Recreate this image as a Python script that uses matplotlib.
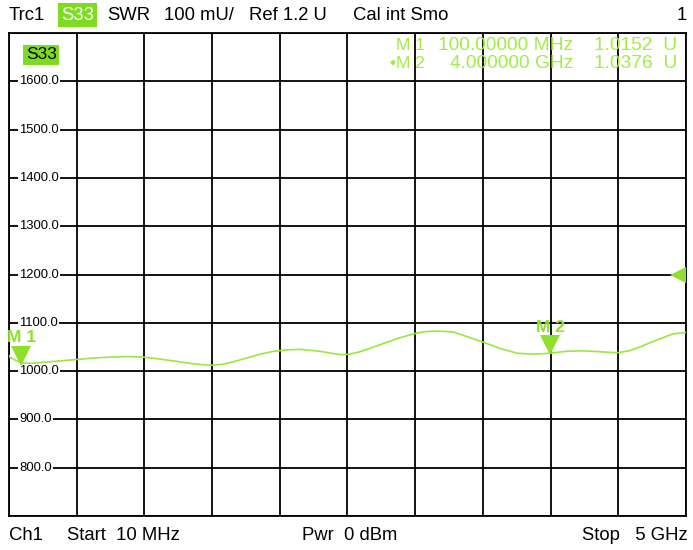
import matplotlib
matplotlib.use("Agg")
import matplotlib.pyplot as plt

# trace data: frequency (GHz) and SWR (mU)
freq = [0.01, 0.017, 0.06, 0.104, 0.18, 0.26, 0.38, 0.51, 0.63, 0.754, 0.88, 0.998,
        1.12, 1.248, 1.37, 1.492, 1.58, 1.661, 1.76, 1.86, 1.96, 2.059, 2.155,
        2.302, 2.45, 2.52, 2.597, 2.68, 2.767, 2.89, 3.017, 3.09, 3.165, 3.283,
        3.39, 3.504, 3.63, 3.754, 3.88, 3.998, 4.12, 4.241, 4.37, 4.492, 4.58,
        4.661, 4.78, 4.904, 5.0]
swr = [1032, 1029, 1022, 1017, 1016, 1018, 1021, 1024, 1027, 1029, 1030, 1029,
       1025, 1020, 1015, 1012, 1014, 1019, 1027, 1035, 1041, 1044, 1045,
       1041, 1034, 1035, 1040, 1048, 1057, 1069, 1079, 1082, 1083, 1081,
       1071, 1060, 1047, 1037, 1035, 1037, 1041, 1042, 1040, 1038, 1042,
       1050, 1064, 1077, 1080]

yticks = [800, 900, 1000, 1100, 1200, 1300, 1400, 1500, 1600]
marker_names = ["M 1", "M 2"]
marker_freq = [0.1, 4.0]
marker_val = [1015.2, 1037.6]
marker_freq_txt = ["100.00000 MHz", "4.000000 GHz"]
marker_val_txt = ["1.0152  U", "1.0376  U"]
ref_level = 1200

green = "#8fe02c"
trace_col = "#9be640"
read_col = "#a2ec48"
box_col = "#7ddc1f"
font = "Liberation Sans"
fs = 13.3

fig = plt.figure(figsize=(6.93, 5.5), dpi=100)
ax = fig.add_axes([9 / 693, 34 / 550, 677 / 693, 483 / 550])
ax.set_xlim(0.01, 5.0)
ax.set_ylim(700, 1700)
ax.set_xticks([0.01 + i * 0.499 for i in range(11)])
ax.set_yticks([700 + i * 100 for i in range(11)])
ax.grid(True, color="black", linewidth=1.3)
ax.tick_params(length=0, labelbottom=False, labelleft=False)
for s in ax.spines.values():
    s.set_linewidth(1.3)

ax.plot(freq, swr, color=trace_col, linewidth=1.2, zorder=3)

# y labels drawn inside the grid
for v in yticks:
    ax.text(0.0150, v, "%.1f" % v, transform=ax.get_yaxis_transform(),
            ha="left", va="center", fontsize=9.4, family=font,
            bbox=dict(facecolor="white", edgecolor="none", pad=0.8), zorder=4)

# markers
for name, f, v in zip(marker_names, marker_freq, marker_val):
    ax.plot(f, v + 16, marker="v", markersize=14, color=green,
            markeredgewidth=0, zorder=5, clip_on=False)
    ax.text(f, v + 38, name, ha="center", va="bottom", fontsize=12.5,
            color=green, family=font, fontweight="bold", zorder=5)

# reference level arrow on the right
ax.plot(4.94, ref_level, marker="<", markersize=11, color=green,
        markeredgewidth=0, clip_on=False, zorder=5)

# S33 box in the top left corner
ax.text(0.025, 0.955, "S33", transform=ax.transAxes, ha="left", va="center",
        fontsize=12.5, family=font, color="black",
        bbox=dict(facecolor=box_col, edgecolor="none", pad=1.8), zorder=5)

# marker readout
for i in range(2):
    yy = 1 - (12 + 18 * i) / 483
    prefix = "\u2022" if i == 1 else ""
    ax.text(416 / 677, yy, prefix + marker_names[i], transform=ax.transAxes,
            ha="right", va="center", fontsize=12.5, color=read_col, family=font)
    ax.text(564 / 677, yy, marker_freq_txt[i], transform=ax.transAxes,
            ha="right", va="center", fontsize=13.8, color=read_col, family=font)
    ax.text(668 / 677, yy, marker_val_txt[i], transform=ax.transAxes,
            ha="right", va="center", fontsize=13.8, color=read_col, family=font)

# header
hy = 1 - 15 / 550
fig.text(9 / 693, hy, "Trc1", fontsize=fs, family=font, va="center")
fig.text(61 / 693, hy, "S33", fontsize=fs, family=font, va="center",
         color="white", bbox=dict(facecolor=box_col, edgecolor="none", pad=2.2))
fig.text(107 / 693, hy, "SWR", fontsize=fs, family=font, va="center")
fig.text(164 / 693, hy, "100 mU/", fontsize=fs, family=font, va="center")
fig.text(249 / 693, hy, "Ref 1.2 U", fontsize=fs, family=font, va="center")
fig.text(353 / 693, hy, "Cal int Smo", fontsize=fs, family=font, va="center")
fig.text(687 / 693, hy, "1", fontsize=fs, family=font, va="center", ha="right")

# footer
fy = 1 - 535 / 550
fig.text(9 / 693, fy, "Ch1", fontsize=fs, family=font, va="center")
fig.text(67 / 693, fy, "Start  10 MHz", fontsize=fs, family=font, va="center")
fig.text(302 / 693, fy, "Pwr  0 dBm", fontsize=fs, family=font, va="center")
fig.text(688 / 693, fy, "Stop   5 GHz", fontsize=fs, family=font, va="center", ha="right")

fig.savefig("out.png", dpi=100)
